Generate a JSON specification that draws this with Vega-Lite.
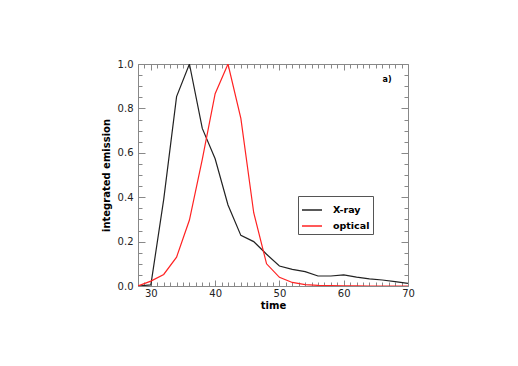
{
  "$schema": "https://vega.github.io/schema/vega-lite/v6.json",
  "autosize": {"type": "none"},
  "width": 270,
  "height": 222,
  "padding": {"left": 138, "top": 64, "right": 110, "bottom": 80},
  "background": "white",
  "config": {
    "view": {"stroke": null},
    "font": "DejaVu Sans",
    "axis": {"grid": false, "domainColor": "#888888", "tickColor": "#888888", "labelColor": "#222222", "labelFont": "DejaVu Sans", "labelFontSize": 10, "titleFont": "DejaVu Sans", "titleFontSize": 10, "titleFontWeight": "bold", "titleColor": "#000000", "domainWidth": 1, "tickWidth": 1}
  },
  "datasets": {
    "curves": [
      {"time": 28, "value": 0.0, "series": "X-ray"},
      {"time": 30, "value": 0.005, "series": "X-ray"},
      {"time": 32, "value": 0.39, "series": "X-ray"},
      {"time": 34, "value": 0.853, "series": "X-ray"},
      {"time": 36, "value": 1.0, "series": "X-ray"},
      {"time": 38, "value": 0.71, "series": "X-ray"},
      {"time": 40, "value": 0.573, "series": "X-ray"},
      {"time": 42, "value": 0.365, "series": "X-ray"},
      {"time": 44, "value": 0.228, "series": "X-ray"},
      {"time": 46, "value": 0.2, "series": "X-ray"},
      {"time": 48, "value": 0.143, "series": "X-ray"},
      {"time": 50, "value": 0.09, "series": "X-ray"},
      {"time": 52, "value": 0.075, "series": "X-ray"},
      {"time": 54, "value": 0.065, "series": "X-ray"},
      {"time": 56, "value": 0.045, "series": "X-ray"},
      {"time": 58, "value": 0.045, "series": "X-ray"},
      {"time": 60, "value": 0.05, "series": "X-ray"},
      {"time": 62, "value": 0.04, "series": "X-ray"},
      {"time": 64, "value": 0.032, "series": "X-ray"},
      {"time": 66, "value": 0.027, "series": "X-ray"},
      {"time": 68, "value": 0.02, "series": "X-ray"},
      {"time": 70, "value": 0.012, "series": "X-ray"},
      {"time": 28, "value": 0.0, "series": "optical"},
      {"time": 30, "value": 0.022, "series": "optical"},
      {"time": 32, "value": 0.052, "series": "optical"},
      {"time": 34, "value": 0.13, "series": "optical"},
      {"time": 36, "value": 0.297, "series": "optical"},
      {"time": 38, "value": 0.57, "series": "optical"},
      {"time": 40, "value": 0.866, "series": "optical"},
      {"time": 42, "value": 1.0, "series": "optical"},
      {"time": 44, "value": 0.755, "series": "optical"},
      {"time": 46, "value": 0.33, "series": "optical"},
      {"time": 48, "value": 0.1, "series": "optical"},
      {"time": 50, "value": 0.039, "series": "optical"},
      {"time": 52, "value": 0.016, "series": "optical"},
      {"time": 54, "value": 0.006, "series": "optical"},
      {"time": 56, "value": 0.003, "series": "optical"},
      {"time": 58, "value": 0.002, "series": "optical"},
      {"time": 60, "value": 0.001, "series": "optical"},
      {"time": 62, "value": 0.001, "series": "optical"},
      {"time": 64, "value": 0.0, "series": "optical"},
      {"time": 66, "value": 0.0, "series": "optical"},
      {"time": 68, "value": 0.0, "series": "optical"},
      {"time": 70, "value": 0.0, "series": "optical"}
    ],
    "note": [{"label": "a)", "time": 66.75, "value": 0.928}]
  },
  "resolve": {"axis": {"x": "independent", "y": "independent"}},
  "layer": [
    {
      "data": {"name": "curves"},
      "mark": {"type": "line", "strokeWidth": 1.2, "clip": true},
      "encoding": {
        "x": {
          "field": "time", "type": "quantitative",
          "scale": {"domain": [28, 70], "nice": false, "zero": false},
          "axis": {
            "orient": "bottom", "title": "time", "titlePadding": 0,
            "values": [28,29,30,31,32,33,34,35,36,37,38,39,40,41,42,43,44,45,46,47,48,49,50,51,52,53,54,55,56,57,58,59,60,61,62,63,64,65,66,67,68,69,70],
            "labelExpr": "datum.value % 10 === 0 ? datum.label : ''",
            "tickSize": {"condition": {"test": "datum.value % 10 === 0", "value": -6}, "value": -4},
            "labelPadding": 8, "labelFlush": false, "labelOverlap": false
          }
        },
        "y": {
          "field": "value", "type": "quantitative",
          "scale": {"domain": [0, 1], "nice": false},
          "axis": {
            "orient": "left", "title": "integrated emission", "titlePadding": 6,
            "values": [0,0.05,0.1,0.15,0.2,0.25,0.3,0.35,0.4,0.45,0.5,0.55,0.6,0.65,0.7,0.75,0.8,0.85,0.9,0.95,1.0],
            "labelExpr": "abs(datum.value*5 - round(datum.value*5)) < 0.001 ? format(datum.value, '.1f') : ''",
            "tickSize": {"condition": {"test": "abs(datum.value*5 - round(datum.value*5)) < 0.001", "value": -7}, "value": -4},
            "labelPadding": 12, "labelOverlap": false
          }
        },
        "color": {
          "field": "series", "type": "nominal",
          "scale": {"domain": ["X-ray", "optical"], "range": ["#222222", "#ff2222"]},
          "legend": {
            "orient": "none", "legendX": 160, "legendY": 132,
            "title": null, "symbolType": "stroke", "symbolSize": 400, "symbolStrokeWidth": 1.5,
            "labelFont": "DejaVu Sans", "labelFontSize": 9.5, "labelFontWeight": "bold", "labelColor": "#000000",
            "strokeColor": "#555555", "fillColor": "white", "padding": 3, "rowPadding": -8, "labelOffset": 10
          }
        }
      }
    },
    {
      "data": {"name": "note"},
      "mark": {"type": "text", "fontWeight": "bold", "fontSize": 8, "font": "DejaVu Sans", "color": "#000000"},
      "encoding": {
        "text": {"field": "label"},
        "x": {
          "field": "time", "type": "quantitative",
          "axis": {
            "orient": "top", "title": null, "labels": false,
            "values": [28,29,30,31,32,33,34,35,36,37,38,39,40,41,42,43,44,45,46,47,48,49,50,51,52,53,54,55,56,57,58,59,60,61,62,63,64,65,66,67,68,69,70],
            "tickSize": {"condition": {"test": "datum.value % 10 === 0", "value": -6}, "value": -4}
          }
        },
        "y": {
          "field": "value", "type": "quantitative",
          "axis": {
            "orient": "right", "title": null, "labels": false,
            "values": [0,0.05,0.1,0.15,0.2,0.25,0.3,0.35,0.4,0.45,0.5,0.55,0.6,0.65,0.7,0.75,0.8,0.85,0.9,0.95,1.0],
            "tickSize": {"condition": {"test": "abs(datum.value*5 - round(datum.value*5)) < 0.001", "value": -7}, "value": -4}
          }
        }
      }
    }
  ]
}
